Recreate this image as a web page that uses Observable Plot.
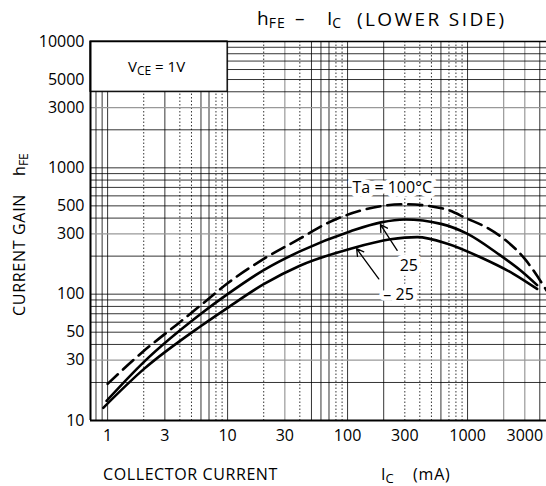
<!DOCTYPE html>
<html><head><meta charset="utf-8">
<script src="https://cdn.jsdelivr.net/npm/d3@7"></script>
<script src="https://cdn.jsdelivr.net/npm/@observablehq/plot@0.6"></script>
<style>
body{margin:0;background:#fff;}
svg{font-family:"Open Sans",sans-serif;}
</style></head><body><div id="chart"></div>
<script>
// Ta = 100°C (dashed)
const ic100  = [1, 2, 4, 6, 10, 20, 40, 70, 130, 300, 630, 1000, 1500, 2000, 3000, 4550];
const hfe100 = [19.5, 35.5, 60, 82, 122, 190, 275, 370, 460, 515, 475, 395, 330, 275, 190, 107];
// Ta = 25°C
const ic25  = [0.98, 2, 6, 10, 20, 40, 106, 190, 300, 600, 1000, 1780, 2770, 3800];
const hfe25 = [14.3, 29, 70, 100, 155, 218, 315, 370, 390, 360, 300, 210, 154, 118];
// Ta = -25°C
const icm25  = [0.92, 2, 6, 10, 20, 40, 106, 228, 380, 680, 1280, 2410, 3800];
const hfem25 = [12.6, 25.5, 56, 78, 120, 168, 229, 272, 283, 251, 196, 145, 110];

const xTicks = [1, 3, 10, 30, 100, 300, 1000, 3000];
const yTicks = [10, 30, 50, 100, 300, 500, 1000, 3000, 5000, 10000];

const xGridSolid  = [0.8, 0.9, 1, 3, 6, 7, 10, 50, 60, 70, 100, 200, 600, 1000, 4000];
const xGridDotted = [2, 4, 5, 8, 9, 20, 40, 80, 90, 300, 400, 500, 700, 800, 900];
const xGridGray   = [30, 2000, 3000];
const yGridSolid  = [20, 40, 50, 60, 70, 80, 90, 100, 200, 400, 500, 600, 700, 800, 900, 1000, 2000, 4000, 5000, 6000, 7000, 8000, 9000];
const yGridGray   = [30, 300, 3000];

const xDomain = [0.72, 4550];
const yDomain = [10, 10000];

// V_CE condition box (data extent)
const boxX = [0.72, 10];
const boxY = [4000, 10000];

// annotations
const labelText = ["Ta = 100°C", "25", "– 25"];
const labelX = [236, 324, 266];
const labelY = [695, 169, 98];
const arrowX1 = [259, 182];
const arrowY1 = [222, 132];
const arrowX2 = [188, 119];
const arrowY2 = [355, 229];

const toRows = (xs, ys) => xs.map((x, i) => ({x, y: ys[i]}));
const t100 = toRows(ic100, hfe100);
const t25 = toRows(ic25, hfe25);
const tm25 = toRows(icm25, hfem25);
const labels = labelText.map((t, i) => ({t, x: labelX[i], y: labelY[i]}));
const arrows = arrowX1.map((x1, i) => ({x1, y1: arrowY1[i], x2: arrowX2[i], y2: arrowY2[i]}));
const box = [{x1: boxX[0], x2: boxX[1], y1: boxY[0], y2: boxY[1]}];

const chart = Plot.plot({
  width: 546, height: 486,
  marginLeft: 90, marginRight: 0, marginTop: 41, marginBottom: 66,
  x: {type: "log", domain: xDomain, axis: null},
  y: {type: "log", domain: yDomain, axis: null},
  style: {fontFamily: '"Open Sans", sans-serif', fontSize: "16px", background: "white", color: "black"},
  marks: [
    Plot.ruleX(xGridSolid, {stroke: "#000", strokeWidth: 0.8}),
    Plot.ruleX(xGridDotted, {stroke: "#000", strokeWidth: 0.8, strokeDasharray: "1.5,2"}),
    Plot.ruleX(xGridGray, {stroke: "#999", strokeWidth: 1.2}),
    Plot.ruleY(yGridSolid, {stroke: "#000", strokeWidth: 0.8}),
    Plot.ruleY(yGridGray, {stroke: "#999", strokeWidth: 1.2}),
    Plot.rect(box, {x1: "x1", x2: "x2", y1: "y1", y2: "y2", fill: "white", stroke: "black", strokeWidth: 1.2}),
    Plot.line(t100, {x: "x", y: "y", stroke: "black", strokeWidth: 2.6, strokeDasharray: "14,7", curve: "monotone-x"}),
    Plot.line(t25, {x: "x", y: "y", stroke: "black", strokeWidth: 2.6, curve: "monotone-x"}),
    Plot.line(tm25, {x: "x", y: "y", stroke: "black", strokeWidth: 2.6, curve: "monotone-x"}),
    Plot.arrow(arrows, {x1: "x1", y1: "y1", x2: "x2", y2: "y2", stroke: "black", strokeWidth: 1.3, headLength: 9}),
    Plot.text(labels, {x: "x", y: "y", text: "t", fill: "black", stroke: "white", strokeWidth: 9, paintOrder: "stroke", fontSize: 16}),
    Plot.ruleX([xDomain[0]], {stroke: "black", strokeWidth: 2}),
    Plot.ruleY([yDomain[0]], {stroke: "black", strokeWidth: 2}),
    Plot.ruleY([yDomain[1]], {stroke: "black", strokeWidth: 1.5}),
    // tick labels
    Plot.text(xTicks, {x: d => d, frameAnchor: "bottom", dy: 20, text: d => String(d), fill: "black", fontSize: 16}),
    Plot.text(yTicks, {y: d => d, frameAnchor: "left", dx: -6, textAnchor: "end", text: d => String(d), fill: "black", fontSize: 16})
  ]
});
document.getElementById("chart").appendChild(chart);

const svg = d3.select(chart);
const sx = chart.scale("x"), sy = chart.scale("y");

// V_CE label in the box
const bx = (sx.apply(boxX[0]) + sx.apply(boxX[1])) / 2;
const by = (sy.apply(boxY[0]) + sy.apply(boxY[1])) / 2;
const vce = svg.append("text").attr("x", bx - 2).attr("y", by + 6).attr("text-anchor", "middle")
  .attr("font-size", 15).attr("fill", "black");
vce.append("tspan").text("V");
vce.append("tspan").attr("font-size", 12).attr("dy", 3).text("CE");
vce.append("tspan").attr("dy", -3).text(" = 1V");

// title
const title = svg.append("g").attr("font-size", 19).attr("fill", "black").attr("text-anchor", "start");
const t1 = title.append("text").attr("x", 257).attr("y", 25);
t1.append("tspan").text("h");
t1.append("tspan").attr("font-size", 14).attr("dy", 3).attr("letter-spacing", 1).text("FE");
title.append("text").attr("x", 295).attr("y", 25).text("–");
const t2 = title.append("text").attr("x", 327).attr("y", 25);
t2.append("tspan").text("I");
t2.append("tspan").attr("font-size", 14).attr("dy", 3).text("C");
title.append("text").attr("x", 357).attr("y", 26).attr("letter-spacing", 2.4).text("(LOWER SIDE)");

// x axis title
const xt = svg.append("g").attr("font-size", 16).attr("fill", "black").attr("text-anchor", "start");
xt.append("text").attr("x", 103).attr("y", 480).attr("letter-spacing", 0.6).text("COLLECTOR CURRENT");
const xi = xt.append("text").attr("x", 381).attr("y", 480);
xi.append("tspan").text("I");
xi.append("tspan").attr("font-size", 13).attr("dy", 3).text("C");
xt.append("text").attr("x", 413).attr("y", 480).attr("letter-spacing", 0.8).text("(mA)");

// y axis title
const yt = svg.append("text").attr("transform", "translate(25,316) rotate(-90)")
  .attr("text-anchor", "start").attr("font-size", 16).attr("fill", "black");
yt.append("tspan").attr("letter-spacing", 0.7).text("CURRENT GAIN");
yt.append("tspan").attr("dx", 18).text("h");
yt.append("tspan").attr("font-size", 12).attr("dy", 3).text("FE");
</script></body></html>
